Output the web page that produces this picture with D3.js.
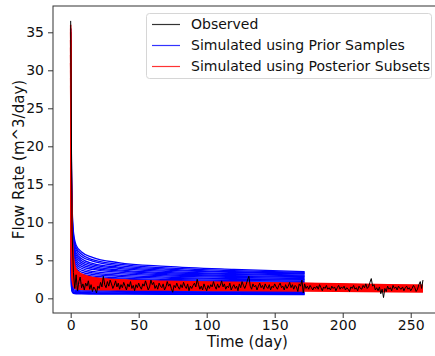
<!DOCTYPE html>
<html>
<head>
<meta charset="utf-8">
<script src="https://cdn.jsdelivr.net/npm/d3@7"></script>
<style>
  body { margin: 0; background: #fff; }
  svg { display: block; font-family: "DejaVu Sans", sans-serif; }
</style>
</head>
<body>
<div id="chart"></div>
<script>
var width = 435;
var height = 356;

// knot times (days) at which the simulated curves were read off
var priorTimes = [0, 0.5, 1, 2, 4, 8, 16, 35, 70, 120, 172];
var postTimes = [0, 0.5, 1, 2, 4, 8, 16, 35, 70, 120, 172, 215, 259];

// blue: simulated using prior samples
var priorCurves = [
  [35.5, 19, 12.5, 8.8, 7.0, 6.1, 5.4, 4.7, 4.2, 3.8, 3.5],
  [34, 18, 12, 8.4, 6.7, 5.8, 5.1, 4.5, 4.0, 3.65, 3.4],
  [33, 17, 11.2, 8.0, 6.4, 5.5, 4.9, 4.3, 3.85, 3.5, 3.3],
  [35, 16, 10.5, 7.5, 6.0, 5.2, 4.6, 4.1, 3.7, 3.4, 3.2],
  [32, 15, 10, 7.1, 5.7, 4.95, 4.4, 3.95, 3.55, 3.25, 3.05],
  [31, 14, 9.4, 6.7, 5.4, 4.7, 4.2, 3.75, 3.4, 3.15, 2.95],
  [34, 13.5, 8.8, 6.3, 5.1, 4.45, 4.0, 3.6, 3.25, 3.0, 2.85],
  [30, 12.5, 8.2, 5.9, 4.8, 4.2, 3.8, 3.45, 3.1, 2.9, 2.75],
  [33, 12, 7.7, 5.5, 4.5, 3.95, 3.55, 3.25, 2.95, 2.75, 2.6],
  [31, 11, 7.1, 5.1, 4.2, 3.7, 3.35, 3.05, 2.8, 2.6, 2.5],
  [29, 10.5, 6.6, 4.7, 3.9, 3.45, 3.15, 2.9, 2.65, 2.5, 2.4],
  [32, 10, 6.1, 4.3, 3.6, 3.2, 2.95, 2.7, 2.5, 2.35, 2.25],
  [30, 9.2, 5.6, 4.0, 3.35, 3.0, 2.75, 2.55, 2.35, 2.2, 2.1],
  [28, 8.5, 5.1, 3.6, 3.05, 2.75, 2.55, 2.35, 2.2, 2.05, 1.95],
  [31, 8, 4.7, 3.3, 2.8, 2.5, 2.35, 2.2, 2.05, 1.9, 1.8],
  [29, 7.4, 4.3, 3.0, 2.55, 2.3, 2.15, 2.0, 1.9, 1.75, 1.65],
  [27, 6.8, 3.9, 2.7, 2.3, 2.1, 1.95, 1.85, 1.75, 1.6, 1.5],
  [30, 6.2, 3.5, 2.4, 2.05, 1.9, 1.78, 1.68, 1.58, 1.45, 1.38],
  [28, 5.6, 3.1, 2.1, 1.8, 1.68, 1.6, 1.5, 1.42, 1.32, 1.25],
  [26, 5.0, 2.7, 1.8, 1.58, 1.48, 1.42, 1.35, 1.28, 1.2, 1.12],
  [29, 4.4, 2.3, 1.55, 1.38, 1.3, 1.25, 1.2, 1.14, 1.07, 1.0],
  [27, 3.8, 2.0, 1.35, 1.2, 1.14, 1.1, 1.06, 1.0, 0.95, 0.9],
  [25, 3.3, 1.7, 1.15, 1.04, 0.99, 0.96, 0.93, 0.88, 0.84, 0.8],
  [28, 2.8, 1.45, 1.0, 0.9, 0.86, 0.84, 0.81, 0.77, 0.74, 0.7],
  [26, 2.4, 1.25, 0.86, 0.78, 0.75, 0.73, 0.71, 0.68, 0.65, 0.62],
  [24, 2.0, 1.05, 0.75, 0.68, 0.66, 0.64, 0.62, 0.6, 0.57, 0.55],
  [27, 1.7, 0.9, 0.66, 0.6, 0.58, 0.57, 0.55, 0.53, 0.51, 0.48]
];

// red: simulated using posterior subsets
var postCurves = [
  [36, 16, 9, 5.5, 3.8, 3.2, 2.75, 2.45, 2.25, 2.1, 2.0, 1.85, 1.72],
  [35, 15, 8.5, 5.1, 3.6, 3.05, 2.65, 2.38, 2.18, 2.04, 1.94, 1.8, 1.68],
  [34, 14, 8, 4.8, 3.4, 2.9, 2.55, 2.3, 2.1, 1.98, 1.88, 1.75, 1.64],
  [33, 13, 7.4, 4.5, 3.2, 2.75, 2.45, 2.2, 2.02, 1.9, 1.82, 1.7, 1.6],
  [35.5, 12.5, 7, 4.2, 3.0, 2.6, 2.33, 2.1, 1.94, 1.83, 1.75, 1.64, 1.55],
  [32, 11.5, 6.5, 3.9, 2.8, 2.45, 2.2, 2.0, 1.86, 1.76, 1.68, 1.58, 1.49],
  [34, 11, 6.0, 3.6, 2.6, 2.3, 2.08, 1.9, 1.77, 1.68, 1.6, 1.51, 1.43],
  [31, 10, 5.5, 3.3, 2.4, 2.15, 1.95, 1.8, 1.68, 1.6, 1.53, 1.44, 1.36],
  [33, 9.5, 5.0, 3.0, 2.2, 2.0, 1.83, 1.7, 1.59, 1.52, 1.45, 1.37, 1.29],
  [30, 8.5, 4.5, 2.7, 2.0, 1.84, 1.7, 1.58, 1.49, 1.42, 1.36, 1.28, 1.2],
  [32, 8, 4.0, 2.4, 1.8, 1.68, 1.57, 1.47, 1.39, 1.33, 1.27, 1.19, 1.11],
  [29, 7, 3.5, 2.1, 1.6, 1.52, 1.44, 1.36, 1.29, 1.23, 1.18, 1.1, 1.02],
  [31, 6.5, 3.1, 1.85, 1.42, 1.36, 1.3, 1.24, 1.18, 1.13, 1.08, 1.0, 0.93],
  [28, 5.5, 2.7, 1.6, 1.25, 1.2, 1.16, 1.12, 1.08, 1.03, 0.98, 0.91, 0.84]
];

// black: observed daily rate, day 0 .. 259
var observed = [
  36.5, 9.0, 3.4, 1.3, 3.1, 1.0, 2.2, 2.8, 1.4, 1.9,
  1.1, 2.0, 1.6, 2.3, 1.2, 1.8, 0.9, 1.5, 1.2, 0.7,
  1.6, 1.3, 2.1, 1.5, 2.9, 1.8, 1.4, 2.2, 1.6, 2.4,
  1.9, 1.3, 1.7, 2.3, 1.5, 2.0, 1.2, 1.8, 1.4, 2.1,
  1.6, 1.1, 1.9, 1.5, 2.2, 1.3, 1.7, 1.0, 1.8, 1.4,
  2.0, 1.5, 1.2, 1.9, 1.6, 2.3, 1.7, 1.1, 1.5, 2.4,
  1.8, 2.1, 1.3, 1.7, 1.2, 2.0, 1.6, 1.4, 1.9, 1.1,
  1.5, 2.2, 1.6, 1.9, 1.3, 0.8, 1.7, 1.4, 2.0, 1.5,
  1.2, 1.8, 1.4, 2.1, 1.6, 1.3, 1.9, 1.0, 1.6, 1.3,
  1.7, 2.0, 1.5, 2.5, 1.8, 1.2, 1.6, 1.1, 1.9, 1.4,
  1.0, 1.7, 1.3, 1.8, 1.5, 2.2, 1.6, 1.2, 1.9, 1.4,
  1.7, 2.3, 1.5, 1.9, 1.2, 1.6, 1.4, 2.0, 1.1, 1.5,
  1.8, 1.3, 1.6, 1.0, 1.9, 1.4, 2.2, 1.7, 1.3, 1.8,
  2.4, 2.9, 1.6, 1.2, 1.9, 1.5, 1.7, 1.1, 1.6, 2.0,
  1.4, 1.7, 1.2, 1.9, 1.5, 1.3, 1.8, 1.1, 1.6, 1.4,
  1.9, 1.5, 1.2, 1.7, 2.0, 1.4, 1.6, 1.1, 1.8, 1.3,
  1.6, 2.1, 1.4, 1.8, 1.2, 1.7, 1.5, 0.9, 1.9, 1.6,
  2.4, 0.7, 1.9, 1.3, 1.6, 1.2, 1.7, 1.4, 1.1, 1.5,
  1.3, 1.6, 1.2, 1.8, 1.4, 1.0, 1.5, 1.3, 1.7, 1.2,
  1.4, 1.1, 1.6, 1.3, 1.5, 1.0, 1.4, 1.7, 1.2, 1.5,
  1.3, 1.6, 1.1, 1.4, 1.2, 0.9, 1.5, 1.3, 1.7, 1.2,
  1.4, 1.0, 1.6, 1.3, 1.2, 1.7, 1.4, 1.9, 1.3, 1.5,
  2.1, 2.6, 1.6, 1.8, 1.1, 1.4, 1.0, 1.5, 0.6, 1.2,
  0.1, 1.3, 0.9, 1.6, 1.2, 1.4, 1.0, 1.7, 1.3, 1.5,
  1.1, 1.6, 1.3, 1.2, 1.5, 1.0, 1.4, 1.6, 1.2, 1.4,
  1.0, 1.3, 1.7, 1.4, 0.9, 1.2, 1.8, 2.2, 1.3, 2.4
];

var xTicks = [0, 50, 100, 150, 200, 250];
var yTicks = [0, 5, 10, 15, 20, 25, 30, 35];
var legendLabels = ["Observed", "Simulated using Prior Samples", "Simulated using Posterior Subsets"];
var legendColors = ["#000000", "#0000ff", "#ff0000"];

var margin = { top: 6, right: -7, bottom: 43, left: 53 };

var x = d3.scaleLinear()
  .domain([-13, 273])
  .range([margin.left, width - margin.right]);
var y = d3.scaleLinear()
  .domain([-1.93, 38.46])
  .range([height - margin.bottom, margin.top]);

var svg = d3.select("#chart").append("svg")
  .attr("width", width)
  .attr("height", height);

svg.append("defs").append("clipPath").attr("id", "plotclip")
  .append("rect")
  .attr("x", margin.left).attr("y", margin.top)
  .attr("width", width - margin.right - margin.left)
  .attr("height", height - margin.bottom - margin.top);

var plot = svg.append("g").attr("clip-path", "url(#plotclip)");

var knotLine = function (times) {
  return d3.line()
    .x(function (d, i) { return x(times[i]); })
    .y(function (d) { return y(d); })
    .curve(d3.curveMonotoneX);
};

plot.selectAll("path.prior")
  .data(priorCurves)
  .enter().append("path")
  .attr("class", "prior")
  .attr("d", knotLine(priorTimes))
  .attr("fill", "none")
  .attr("stroke", "blue")
  .attr("stroke-width", 1.3);

plot.selectAll("path.post")
  .data(postCurves)
  .enter().append("path")
  .attr("class", "post")
  .attr("d", knotLine(postTimes))
  .attr("fill", "none")
  .attr("stroke", "red")
  .attr("stroke-width", 1.5);

plot.append("path")
  .attr("d", d3.line()
    .x(function (d, i) { return x(i); })
    .y(function (d) { return y(d); })(observed))
  .attr("fill", "none")
  .attr("stroke", "black")
  .attr("stroke-width", 1);

// axes
var xAxis = svg.append("g")
  .attr("transform", "translate(0," + (height - margin.bottom) + ")")
  .call(d3.axisBottom(x).tickValues(xTicks).tickSize(5).tickPadding(2));
var yAxis = svg.append("g")
  .attr("transform", "translate(" + margin.left + ",0)")
  .call(d3.axisLeft(y).tickValues(yTicks).tickSize(5).tickPadding(4));

[xAxis, yAxis].forEach(function (g) {
  g.select(".domain").remove();
  g.selectAll("line").attr("stroke", "#333");
  g.selectAll("text")
    .attr("fill", "#111")
    .style("font-size", "14px")
    .style("font-family", "DejaVu Sans");
});

// frame
svg.append("rect")
  .attr("x", margin.left).attr("y", margin.top)
  .attr("width", width - margin.right - margin.left)
  .attr("height", height - margin.bottom - margin.top)
  .attr("fill", "none")
  .attr("stroke", "#333")
  .attr("stroke-width", 1);

svg.append("text")
  .attr("x", (margin.left + width - margin.right) / 2)
  .attr("y", 347)
  .attr("text-anchor", "middle")
  .style("font-size", "15px")
  .attr("fill", "#111")
  .text("Time (day)");

svg.append("text")
  .attr("transform", "translate(24," + (margin.top + height - margin.bottom) / 2 + ") rotate(-90)")
  .attr("text-anchor", "middle")
  .style("font-size", "15px")
  .attr("fill", "#111")
  .text("Flow Rate (m^3/day)");

// legend
var legendItems = legendLabels.map(function (label, i) {
  return { label: label, color: legendColors[i], row: i };
});

var legend = svg.append("g");
legend.append("rect")
  .attr("x", 146.5).attr("y", 13.5)
  .attr("width", 285).attr("height", 65)
  .attr("rx", 3)
  .attr("fill", "white").attr("fill-opacity", 0.8)
  .attr("stroke", "#d6d6d6");

var rows = legend.selectAll("g.row")
  .data(legendItems)
  .enter().append("g")
  .attr("class", "row")
  .attr("transform", function (d) { return "translate(0," + (24.5 + d.row * 21) + ")"; });

rows.append("line")
  .attr("x1", 152).attr("x2", 180)
  .attr("stroke", function (d) { return d.color; })
  .attr("stroke-opacity", 0.8)
  .attr("stroke-width", 1.2);

rows.append("text")
  .attr("x", 191)
  .attr("dy", "0.35em")
  .style("font-size", "14px")
  .attr("fill", "#111")
  .text(function (d) { return d.label; });
</script>
</body>
</html>
